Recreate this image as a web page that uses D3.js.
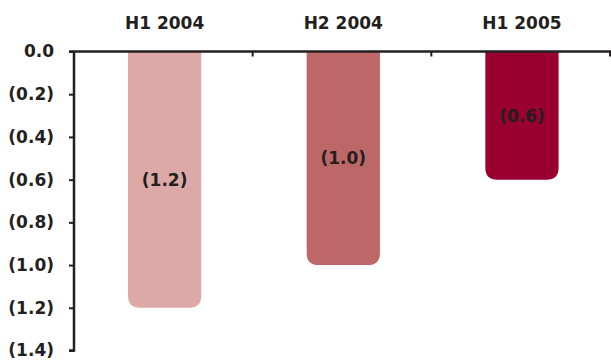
<!DOCTYPE html>
<html>
<head>
<meta charset="utf-8">
<script src="https://cdn.jsdelivr.net/npm/d3@7"></script>
<style>
  html, body { margin: 0; padding: 0; background: #fff; }
  text { font-family: "DejaVu Sans", sans-serif; font-weight: 700; fill: #231F20; }
</style>
</head>
<body>
<svg id="chart" width="611" height="362"></svg>
<script>
// Half-year results (negative values, shown in parentheses)
const categories = ["H1 2004", "H2 2004", "H1 2005"];
const values = [-1.2, -1.0, -0.6];
const barColors = ["#DCA9A7", "#BD6768", "#990030"];
const yTicks = [0, -0.2, -0.4, -0.6, -0.8, -1.0, -1.2, -1.4];

const svg = d3.select("#chart");
const ink = "#231F20";
const fontSize = 17;
const plotLeft = 74, plotRight = 610, plotTop = 51.5, plotBottom = 350.5;

const x = d3.scaleBand().domain(categories).range([plotLeft, plotRight]).paddingInner(0.59).paddingOuter(0.295);
const y = d3.scaleLinear().domain([0, -1.4]).range([plotTop, plotBottom]);
const xc = c => x(c) + 1.3 + x.bandwidth() / 2;

const fmt = v => v === 0 ? "0.0" : "(" + Math.abs(v).toFixed(1) + ")";

// Bars hanging from zero with rounded bottom corners
const r = 12;
function barPath(x0, w, y0, y1) {
  return `M${x0},${y0}H${x0 + w}V${y1 - r}Q${x0 + w},${y1} ${x0 + w - r},${y1}H${x0 + r}Q${x0},${y1} ${x0},${y1 - r}Z`;
}
svg.append("g").selectAll("path").data(values).join("path")
  .attr("d", (d, i) => barPath(x(categories[i]) + 1.3, x.bandwidth(), y(0), y(d)))
  .attr("fill", (d, i) => barColors[i]);

// Value labels centred in each bar
svg.append("g").selectAll("text").data(values).join("text")
  .attr("x", (d, i) => xc(categories[i]))
  .attr("y", d => (y(0) + y(d)) / 2)
  .attr("dy", "0.35em")
  .attr("text-anchor", "middle")
  .attr("font-size", fontSize)
  .text(fmt);

// Y axis
const yAxis = d3.axisLeft(y).tickValues(yTicks).tickFormat(fmt).tickSize(5).tickPadding(15);
const gy = svg.append("g").attr("transform", `translate(${plotLeft},0)`).call(yAxis);
gy.select(".domain").attr("d", `M0,${plotTop}V${plotBottom}H-5`).attr("stroke", ink).attr("stroke-width", 2.5).attr("fill", "none");
gy.selectAll(".tick line").attr("stroke", ink).attr("stroke-width", 2);
gy.selectAll(".tick text").attr("font-size", fontSize).attr("fill", ink)
  .style("font-family", "\"DejaVu Sans\", sans-serif").style("font-weight", 700);

// X axis along zero with category separators
const gx = svg.append("g");
gx.append("line").attr("x1", plotLeft - 5).attr("x2", plotRight + 1).attr("y1", y(0)).attr("y2", y(0))
  .attr("stroke", ink).attr("stroke-width", 2.5);
const seps = categories.slice(1).map(c => x(c) - x.step() * x.paddingInner() / 2).concat([plotRight]);
gx.selectAll("line.sep").data(seps).join("line").attr("class", "sep")
  .attr("x1", d => d).attr("x2", d => d).attr("y1", y(0)).attr("y2", y(0) + 5)
  .attr("stroke", ink).attr("stroke-width", 2);

// Category labels above the chart
svg.append("g").selectAll("text").data(categories).join("text")
  .attr("x", xc)
  .attr("y", 29)
  .attr("text-anchor", "middle")
  .attr("font-size", fontSize)
  .text(d => d);
</script>
</body>
</html>
